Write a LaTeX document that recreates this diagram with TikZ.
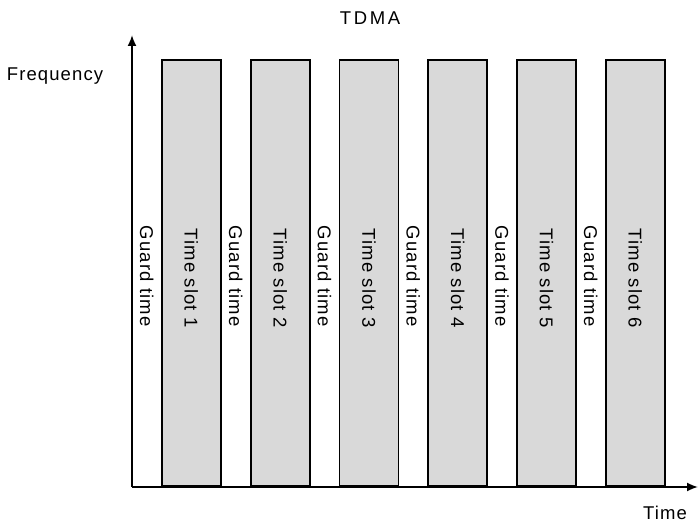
\documentclass[tikz,border=0pt]{standalone}
\usepackage{fontspec}
\setmainfont{Liberation Sans}
\newfontfamily\lblfont[LetterSpace=6]{Liberation Sans}
\newfontfamily\titlefont[LetterSpace=14]{Liberation Sans}
\usetikzlibrary{arrows.meta, calc, positioning}
\tikzset{
  axis/.style     = {line width=1.8pt, -{Latex[length=11pt,width=9pt]}},
  slotbox/.style  = {draw, line width=1.7pt, fill=gray!30, minimum width=59pt,
                     minimum height=426pt, inner sep=0pt, anchor=south west},
  slottext/.style = {rotate=-90, font=\lblfont\fontsize{18.5}{20}\selectfont, inner sep=0pt},
  axtext/.style   = {font=\lblfont\fontsize{18.5}{20}\selectfont, inner sep=0pt}
}

\begin{document}
\begin{tikzpicture}[x=1pt, y=1pt]
\useasboundingbox (0,0) rectangle (698,525);

% Title
\node[font=\titlefont\fontsize{18.5}{20}\selectfont, inner sep=0pt] (title) at (370,507) {TDMA};

% Axes
\coordinate (origin) at (132,38);
\coordinate (ytip) at (132,490);
\coordinate (xtip) at (698,38);
\draw[axis] (origin) -- (ytip);
\draw[axis] (origin) -- (xtip);
\node[axtext] (freq) at (55,449) {Frequency};
\node[axtext] (time) at (665,12) {Time};

% Time slots and guard times
\foreach \i in {1,...,6} {
    \pgfmathsetmacro\xl{161+88.8*(\i-1)}
    \node[slotbox] (slot\i) at (\xl,38) {};
    \node[slottext] (slotlabel\i) at ($(slot\i.center)+(0,-5)$) {Time slot \i};
    \node[slottext] (guard\i) at ($(slot\i.center)+(-44.5,-3)$) {Guard time};
}
\end{tikzpicture}
\end{document}
